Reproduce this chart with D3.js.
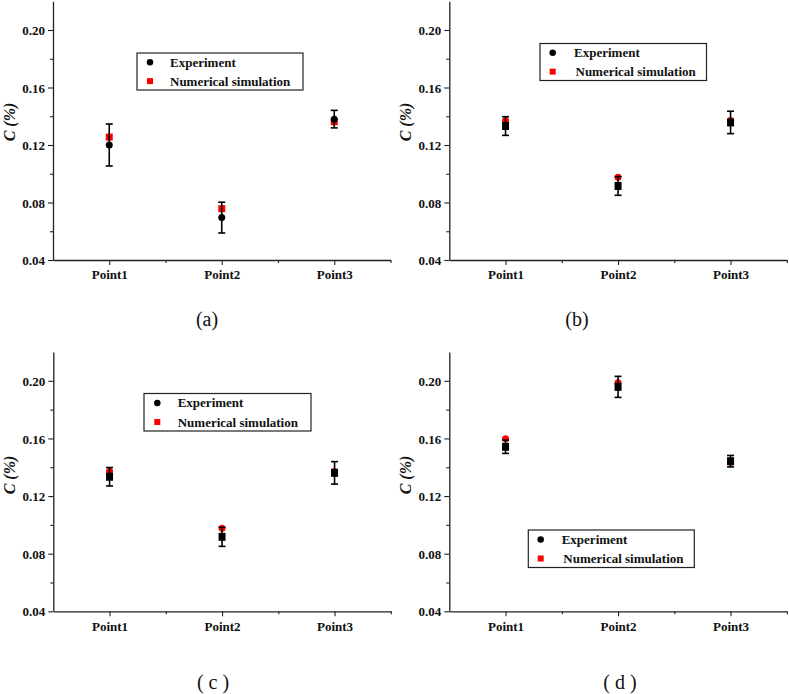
<!DOCTYPE html>
<html>
<head>
<meta charset="utf-8">
<script src="https://cdn.jsdelivr.net/npm/d3@7"></script>
<style>
  html, body { margin: 0; padding: 0; background: #fff; }
  svg { display: block; }
</style>
</head>
<body>
<svg id="chart" width="789" height="694"></svg>
<script>
// ---------- data ----------
const categories = ["Point1", "Point2", "Point3"];
const yTicks = [0.04, 0.08, 0.12, 0.16, 0.20];
const yMinorTicks = [0.06, 0.10, 0.14, 0.18];
const yDomain = [0.04, 0.22];
const legendLabels = ["Experiment", "Numerical simulation"];
const captions = ["(a)", "(b)", "( c )", "( d )"];

const expA = [0.120, 0.0695, 0.1380];
const errA = [0.0146, 0.0107, 0.0061];
const simA = [0.1255, 0.0757, 0.1362];

const expB = [0.1332, 0.0915, 0.1357];
const errB = [0.0065, 0.0065, 0.0078];
const simB = [0.1370, 0.0975, 0.1370];

const expC = [0.1334, 0.0917, 0.1361];
const errC = [0.0064, 0.0066, 0.0078];
const simC = [0.1373, 0.0976, 0.1370];

const expD = [0.1542, 0.1958, 0.1442];
const errD = [0.0046, 0.0073, 0.0040];
const simD = [0.1597, 0.1986, 0.1435];

// ---------- layout ----------
const panels = [
  { exp: expA, err: errA, sim: simA, expShape: "circle", simShape: "square",
    left: 53, top: 1.25, bottom: 260, width: 337.5,
    legend: { x: 137, y: 53, w: 166, h: 37, sym: 150, txt: 170, txt2: 170 },
    caption: { x: 207, y: 326 }, title: { x: 9, y: 122 } },
  { exp: expB, err: errB, sim: simB, expShape: "square", simShape: "circle",
    left: 449.3, top: 1.25, bottom: 260, width: 337.5,
    legend: { x: 540, y: 43.5, w: 166.5, h: 37, sym: 552.7, txt: 574, txt2: 575.5 },
    caption: { x: 577, y: 326 }, title: { x: 405, y: 122 } },
  { exp: expC, err: errC, sim: simC, expShape: "square", simShape: "circle",
    left: 53.3, top: 352, bottom: 611.3, width: 337.5,
    legend: { x: 144, y: 393.5, w: 167, h: 37.5, sym: 157.3, txt: 177.7, txt2: 177.7 },
    caption: { x: 213, y: 689 }, title: { x: 9, y: 475 } },
  { exp: expD, err: errD, sim: simD, expShape: "square", simShape: "circle",
    left: 449.3, top: 352, bottom: 611.3, width: 337.5,
    legend: { x: 528.3, y: 530, w: 166, h: 37.5, sym: 540.7, txt: 561.7, txt2: 563.3 },
    caption: { x: 620, y: 689 }, title: { x: 405, y: 475 } }
];

const svg = d3.select("#chart");
const serif = "'Liberation Serif', 'Times New Roman', serif";
const axisColor = "#222";

function drawMarker(g, shape, cx, cy, color, size) {
  if (shape === "circle") {
    g.append("circle").attr("cx", cx).attr("cy", cy).attr("r", size / 2).attr("fill", color);
  } else {
    g.append("rect").attr("x", cx - size / 2).attr("y", cy - size / 2)
      .attr("width", size).attr("height", size).attr("fill", color);
  }
}

panels.forEach((p, pi) => {
  const g = svg.append("g");
  const x = d3.scaleLinear().domain([0.5, 3.5]).range([p.left, p.left + p.width]);
  const y = d3.scaleLinear().domain(yDomain).range([p.bottom, p.top]);

  const yAxis = g.append("g").attr("transform", `translate(${p.left},0)`)
    .call(d3.axisLeft(y).tickValues(yTicks).tickSize(5).tickSizeOuter(0)
      .tickFormat(d3.format(".2f")));
  g.append("g").attr("transform", `translate(${p.left},0)`)
    .call(d3.axisLeft(y).tickValues(yMinorTicks).tickSize(3).tickSizeOuter(0).tickFormat(""))
    .select(".domain").remove();

  const xAxis = g.append("g").attr("transform", `translate(0,${p.bottom})`)
    .call(d3.axisBottom(x).tickValues([1, 2, 3]).tickSize(5).tickSizeOuter(0)
      .tickFormat((d, i) => categories[i]));
  g.append("g").attr("transform", `translate(0,${p.bottom})`)
    .call(d3.axisBottom(x).tickValues([1.5, 2.5, 3.5]).tickSize(3).tickSizeOuter(0).tickFormat(""))
    .select(".domain").remove();

  g.selectAll(".domain").attr("stroke", axisColor).attr("stroke-width", 1.3);
  g.selectAll(".tick line").attr("stroke", axisColor).attr("stroke-width", 1.1);
  yAxis.selectAll(".tick text").style("font-family", serif).style("font-weight", "bold")
    .style("font-size", "13px").attr("fill", "#111").attr("x", -8).attr("dy", "0.36em");
  xAxis.selectAll(".tick text").style("font-family", serif).style("font-weight", "bold")
    .style("font-size", "13px").attr("fill", "#111").attr("y", 10).attr("dy", "0.72em");

  g.append("text")
    .attr("transform", `translate(${p.title.x},${p.title.y}) rotate(-90)`)
    .attr("text-anchor", "middle").attr("dominant-baseline", "central")
    .style("font-family", serif).style("font-weight", "bold").style("font-style", "italic")
    .style("font-size", "16px").attr("fill", "#111")
    .text("C (%)");

  const marks = g.append("g");
  categories.forEach((c, i) => {
    drawMarker(marks, p.simShape, x(i + 1), y(p.sim[i]), "#ff0000", 7);
  });
  categories.forEach((c, i) => {
    const cx = x(i + 1);
    const yt = y(p.exp[i] + p.err[i]);
    const yb = y(p.exp[i] - p.err[i]);
    marks.append("line").attr("x1", cx).attr("x2", cx).attr("y1", yt).attr("y2", yb)
      .attr("stroke", "#000").attr("stroke-width", 1.6);
    [yt, yb].forEach(yy => {
      marks.append("line").attr("x1", cx - 3.5).attr("x2", cx + 3.5).attr("y1", yy).attr("y2", yy)
        .attr("stroke", "#000").attr("stroke-width", 1.6);
    });
    if (p.expShape === "circle") {
      drawMarker(marks, "circle", cx, y(p.exp[i]), "#000", 7);
    } else {
      marks.append("rect").attr("x", cx - 3.5).attr("y", y(p.exp[i]) - 4)
        .attr("width", 7).attr("height", 8).attr("fill", "#000");
    }
  });

  const L = p.legend;
  const lg = g.append("g");
  lg.append("rect").attr("x", L.x).attr("y", L.y).attr("width", L.w).attr("height", L.h)
    .attr("fill", "#fff").attr("stroke", "#222").attr("stroke-width", 1.2);
  const row1 = L.y + L.h * 0.25, row2 = L.y + L.h * 0.76;
  drawMarker(lg, "circle", L.sym, row1, "#000", 6.5);
  drawMarker(lg, "square", L.sym, row2, "#ff0000", 6);
  lg.append("text").attr("x", L.txt).attr("y", row1).attr("dy", "0.35em")
    .style("font-family", serif).style("font-weight", "bold").style("font-size", "13px")
    .attr("fill", "#111").text(legendLabels[0]);
  lg.append("text").attr("x", L.txt2).attr("y", row2).attr("dy", "0.35em")
    .style("font-family", serif).style("font-weight", "bold").style("font-size", "13px")
    .attr("fill", "#111").text(legendLabels[1]);

  g.append("text").attr("x", p.caption.x).attr("y", p.caption.y)
    .attr("text-anchor", "middle").style("font-family", serif)
    .style("font-size", "20px").attr("fill", "#111").text(captions[pi]);
});
</script>
</body>
</html>
